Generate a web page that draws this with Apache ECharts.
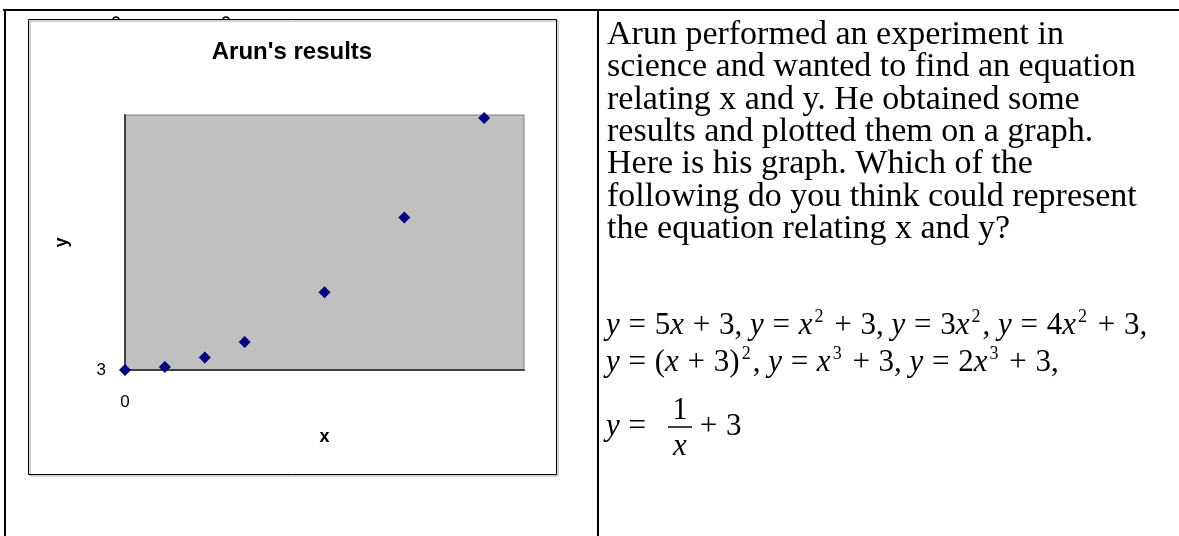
<!DOCTYPE html>
<html>
<head>
<meta charset="utf-8">
<script src="https://cdn.jsdelivr.net/npm/echarts@6/dist/echarts.min.js"></script>
<style>
  html, body { margin: 0; padding: 0; background: #fff; }
  #app { width: 1179px; height: 536px; }
</style>
</head>
<body>
<div id="app"></div>
<script>
// Arun's results: x and y readings
const xValues = [0, 1, 2, 3, 5, 7, 9];
const yValues = [3, 4, 7, 12, 28, 52, 84];
const xTickLabels = [0];
const yTickLabels = [3];

const questionLines = [
  "Arun performed an experiment in",
  "science and wanted to find an equation",
  "relating x and y. He obtained some",
  "results and plotted them on a graph.",
  "Here is his graph. Which of the",
  "following do you think could represent",
  "the equation relating x and y?",
];

const app = document.getElementById("app");
const myChart = echarts.init(app);

const points = [];
for (let i = 0; i < xValues.length; i++) {
  points.push([xValues[i], yValues[i]]);
}

const serif = "'Liberation Serif', 'Times New Roman', serif";
const sans = "'Liberation Sans', Arial, sans-serif";
const eqRich = {
  i: { fontFamily: serif, fontStyle: "italic", fontSize: 31, color: "#000" },
  o: { fontFamily: serif, fontSize: 31, color: "#000", padding: [0, 1, 0, 1] },
  s: { fontFamily: serif, fontSize: 18, color: "#000", verticalAlign: "top", padding: [0, 2, 0, 2] },
};
const eqStyle = { fontFamily: serif, fontSize: 31, fill: "#000", lineHeight: 36, rich: eqRich };

const option = {
  backgroundColor: "#fff",
  animation: false,
  grid: {
    left: 125,
    top: 115,
    width: 399,
    height: 255,
    show: true,
    backgroundColor: "#c0c0c0",
    borderColor: "#808080",
    borderWidth: 1,
  },
  xAxis: {
    type: "value",
    min: 0,
    max: 10,
    name: "x",
    nameLocation: "middle",
    nameGap: 58,
    nameTextStyle: { fontFamily: sans, fontWeight: "bold", fontSize: 18, color: "#000" },
    axisLine: { show: true, lineStyle: { color: "#404040", width: 2 } },
    axisTick: { show: false },
    splitLine: { show: false },
    axisLabel: {
      customValues: xTickLabels,
      margin: 24,
      fontFamily: sans,
      fontSize: 17,
      color: "#000",
    },
  },
  yAxis: {
    type: "value",
    min: 3,
    max: 85,
    name: "y",
    nameLocation: "middle",
    nameGap: 54,
    nameTextStyle: { fontFamily: sans, fontWeight: "bold", fontSize: 18, color: "#000" },
    axisLine: { show: true, lineStyle: { color: "#404040", width: 2 } },
    axisTick: { show: false },
    splitLine: { show: false },
    axisLabel: {
      customValues: yTickLabels,
      margin: 19,
      fontFamily: sans,
      fontSize: 17,
      color: "#000",
    },
  },
  graphic: [
    // table borders
    { type: "line", shape: { x1: 3, y1: 10, x2: 1179, y2: 10 }, style: { stroke: "#000", lineWidth: 2 } },
    { type: "line", shape: { x1: 5, y1: 9, x2: 5, y2: 536 }, style: { stroke: "#000", lineWidth: 2 } },
    { type: "line", shape: { x1: 598, y1: 9, x2: 598, y2: 536 }, style: { stroke: "#000", lineWidth: 2 } },
    // chart area frame
    {
      type: "rect",
      shape: { x: 28.5, y: 19.5, width: 528, height: 455 },
      style: { fill: null, stroke: "#000", lineWidth: 1, shadowColor: "rgba(0,0,0,0.35)", shadowOffsetX: 1.5, shadowOffsetY: 1.5 },
      z: 10,
    },
    // chart title
    {
      type: "text",
      x: 292,
      y: 52,
      style: { text: "Arun's results", fontFamily: sans, fontWeight: "bold", fontSize: 24, fill: "#000", align: "center", verticalAlign: "middle" },
    },
    // bits of text peeking over the frame
    { type: "arc", shape: { cx: 116, cy: 20, r: 3, startAngle: Math.PI, endAngle: 2 * Math.PI }, style: { stroke: "#000", lineWidth: 1.5, fill: null } },
    { type: "arc", shape: { cx: 226, cy: 20, r: 3, startAngle: Math.PI, endAngle: 2 * Math.PI }, style: { stroke: "#000", lineWidth: 1.5, fill: null } },
    // question text
    {
      type: "text",
      x: 607,
      y: 19,
      style: {
        text: questionLines.join("\n"),
        fontFamily: serif,
        fontSize: 34,
        lineHeight: 32.3,
        fill: "#000",
        verticalAlign: "top",
      },
    },
    {
      type: "text",
      x: 606,
      y: 308,
      style: Object.assign({
        text: "{i|y}{o| = }5{i|x}{o| + }3, {i|y}{o| = }{i|x}{s|2}{o| + }3, {i|y}{o| = }3{i|x}{s|2}, {i|y}{o| = }4{i|x}{s|2}{o| + }3,",
        verticalAlign: "top",
      }, eqStyle),
    },
    {
      type: "text",
      x: 606,
      y: 345,
      style: Object.assign({
        text: "{i|y}{o| = }({i|x}{o| + }3){s|2}, {i|y}{o| = }{i|x}{s|3}{o| + }3, {i|y}{o| = }2{i|x}{s|3}{o| + }3,",
        verticalAlign: "top",
      }, eqStyle),
    },
    {
      type: "text",
      x: 606,
      y: 427,
      style: Object.assign({ text: "{i|y}{o| = }", verticalAlign: "middle" }, eqStyle),
    },
    { type: "text", x: 680, y: 411, style: { text: "1", fontFamily: serif, fontSize: 31, fill: "#000", align: "center", verticalAlign: "middle" } },
    { type: "line", shape: { x1: 668, y1: 427, x2: 692, y2: 427 }, style: { stroke: "#000", lineWidth: 1.5 } },
    { type: "text", x: 680, y: 447, style: { text: "x", fontFamily: serif, fontStyle: "italic", fontSize: 31, fill: "#000", align: "center", verticalAlign: "middle" } },
    { type: "text", x: 691, y: 427, style: { text: "{o| + }3", fontFamily: serif, fontSize: 31, fill: "#000", verticalAlign: "middle", rich: eqRich } },
  ],
  series: [
    {
      name: "Arun's results",
      type: "scatter",
      symbol: "diamond",
      symbolSize: 12,
      itemStyle: { color: "#000080", opacity: 1 },
      data: points,
      clip: false,
      z: 5,
    },
  ],
};
myChart.setOption(option);
</script>
</body>
</html>
